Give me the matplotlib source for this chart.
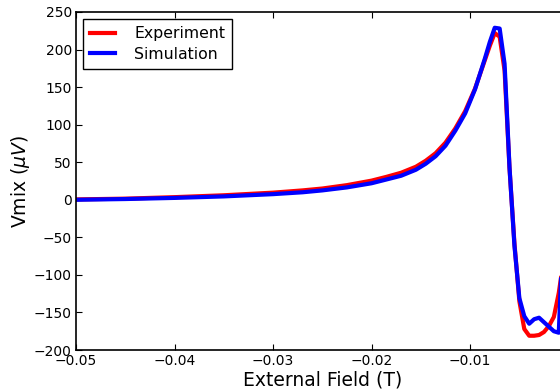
import matplotlib
matplotlib.use("Agg")
import matplotlib.pyplot as plt

# field values (T) and Vmix (uV)
field_exp = [-0.050, -0.045, -0.040, -0.035, -0.030, -0.027, -0.025, -0.0225,
             -0.020, -0.0185, -0.017, -0.0155, -0.0145, -0.0135, -0.0125,
             -0.0115, -0.0105, -0.0095, -0.0085, -0.008, -0.0075, -0.007,
             -0.0065, -0.006, -0.0055, -0.005, -0.0045, -0.004, -0.0035,
             -0.003, -0.0025, -0.002, -0.0015, -0.001, -0.0005, 0.0]
vmix_exp = [0.5, 1.5, 3.5, 6, 9.5, 12.5, 15, 19.5,
            25.5, 30.5, 36, 44, 52, 62, 76,
            95, 118, 148, 186, 205, 222, 217,
            172, 42, -58, -135, -172, -181, -181,
            -180, -176, -168, -156, -124, -80, -40]

field_sim = [-0.050, -0.045, -0.040, -0.035, -0.030, -0.027, -0.025, -0.0225,
             -0.020, -0.0185, -0.017, -0.0155, -0.0145, -0.0135, -0.0125,
             -0.0115, -0.0105, -0.0095, -0.0085, -0.008, -0.0075, -0.007,
             -0.0065, -0.006, -0.0055, -0.005, -0.0045, -0.004, -0.0035,
             -0.003, -0.0025, -0.002, -0.0015, -0.001, -0.0005]
vmix_sim = [0, 1, 2.5, 4.5, 7.5, 10, 12.5, 16.5,
            22, 27, 32, 40, 48, 58, 72,
            92, 115, 147, 188, 210, 229, 228,
            181, 43, -61, -131, -155, -165, -159,
            -157, -163, -169, -175, -177, -20]

x_ticks = [-0.05, -0.04, -0.03, -0.02, -0.01, 0.0]
x_labels = ["\u22120.05", "\u22120.04", "\u22120.03", "\u22120.02", "\u22120.01", ""]
y_ticks = [-200, -150, -100, -50, 0, 50, 100, 150, 200, 250]

plt.rcParams.update({
    "font.family": "DejaVu Sans",
    "xtick.direction": "in",
    "ytick.direction": "in",
    "xtick.top": True,
    "ytick.right": True,
    "xtick.major.size": 4,
    "ytick.major.size": 4,
    "axes.linewidth": 1.2,
    "mathtext.fontset": "dejavusans",
})

fig = plt.figure(figsize=(5.6, 3.92), dpi=100)
# the reference is cropped: the right spine (x = 0) sits just past the image edge
ax = fig.add_axes([0.1357, 0.1071, 0.8797, 0.8623])

ax.plot(field_exp, vmix_exp, color="red", lw=3, label="Experiment")
ax.plot(field_sim, vmix_sim, color="blue", lw=3, label="Simulation")

ax.set_xlim(-0.05, 0.0)
ax.set_ylim(-200, 250)
ax.set_xticks(x_ticks)
ax.set_xticklabels(x_labels)
ax.set_yticks(y_ticks)
ax.tick_params(labelsize=10, pad=3)

ax.set_xlabel("External Field (T)", fontsize=13.5, labelpad=2)
ax.set_ylabel(r"Vmix ($\mu V$)", fontsize=13.5, labelpad=1)

leg = ax.legend(loc="upper left", fontsize=11.3, fancybox=False,
                handlelength=1.6, borderpad=0.45, labelspacing=0.35,
                handletextpad=1.2, borderaxespad=0.45, framealpha=1)
leg.get_frame().set_edgecolor("black")
leg.get_frame().set_linewidth(1.0)

fig.savefig("out.png", dpi=100)
